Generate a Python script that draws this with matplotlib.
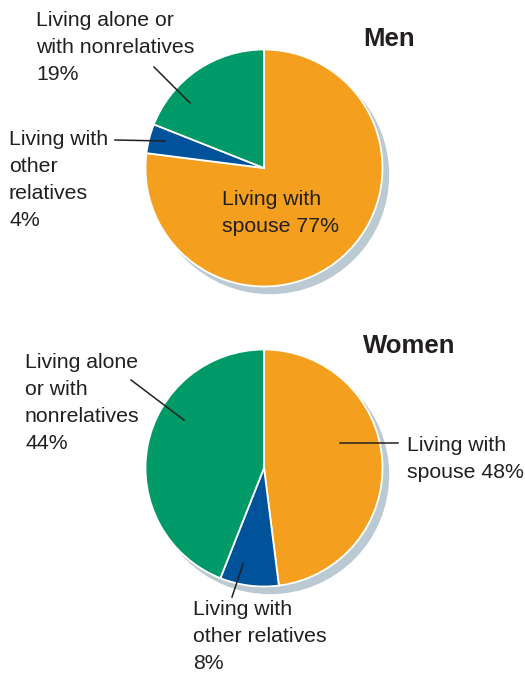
import matplotlib
matplotlib.use('Agg')
import matplotlib.pyplot as plt
from matplotlib.patches import Circle

# Data
categories = ['Living with spouse', 'Living with other relatives',
              'Living alone or with nonrelatives']
men_share = [77, 4, 19]
women_share = [48, 8, 44]
colors = ['#F59F1E', '#00529B', '#009A69']
shadow_color = '#BBCAD2'
text_color = '#231F20'

W, H = 525, 674
plt.rcParams['font.family'] = ['Liberation Sans', 'DejaVu Sans']

fig = plt.figure(figsize=(W / 100, H / 100), dpi=100)
ax = fig.add_axes([0, 0, 1, 1])


def Y(y):
    # pixel row (from top) -> data y
    return H - y


def draw_pie(values, cx, cy, r):
    ax.add_patch(Circle((cx + 6, Y(cy) - 7), r, color=shadow_color, zorder=0))
    ax.pie(values, colors=colors, startangle=90, counterclock=False,
           center=(cx, Y(cy)), radius=r, frame=True,
           wedgeprops=dict(edgecolor='white', linewidth=1.3, zorder=1))


def label(x, y, s, **kw):
    ax.text(x, Y(y), s, fontsize=15.3, color=text_color, ha='left', va='top',
            linespacing=1.53, **kw)


def leader(x0, y0, x1, y1):
    ax.plot([x0, x1], [Y(y0), Y(y1)], color=text_color, lw=1.1, zorder=3)


# Men
draw_pie(men_share, 264, 168, 118.5)
ax.text(363, Y(27), 'Men', fontsize=18.5, fontweight='bold', color=text_color,
        ha='left', va='top')
label(36, 11, 'Living alone or\nwith nonrelatives\n%d%%' % men_share[2])
leader(154, 67, 190, 103)
label(9, 130, 'Living with\nother\nrelatives\n%d%%' % men_share[1])
leader(115, 140, 165, 141)
label(222, 190, 'Living with\nspouse %d%%' % men_share[0])

# Women
draw_pie(women_share, 264, 468, 118.5)
ax.text(363, Y(334), 'Women', fontsize=18.5, fontweight='bold', color=text_color,
        ha='left', va='top')
label(25, 353, 'Living alone\nor with\nnonrelatives\n%d%%' % women_share[2])
leader(131, 380, 184, 420)
label(407, 436, 'Living with\nspouse %d%%' % women_share[0])
leader(340, 443, 398, 443)
label(193, 600, 'Living with\nother relatives\n%d%%' % women_share[1])
leader(243, 564, 232, 597)

ax.set_xlim(0, W)
ax.set_ylim(0, H)
ax.set_aspect('equal')
ax.axis('off')

fig.savefig('out.png', dpi=100, facecolor='white')
